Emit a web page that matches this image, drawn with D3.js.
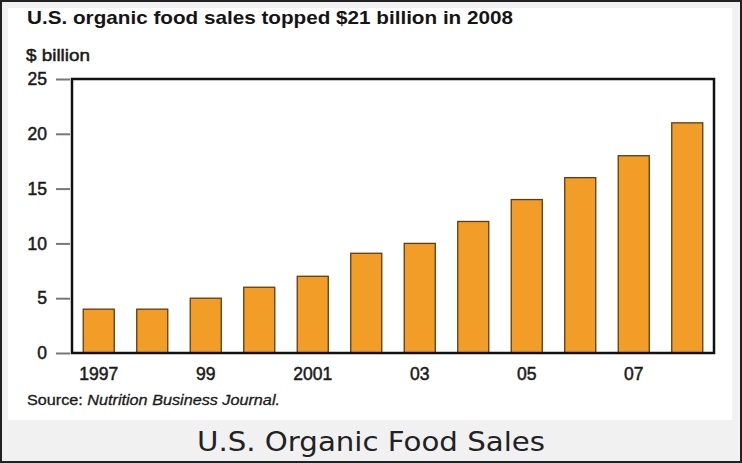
<!DOCTYPE html>
<html><head><meta charset="utf-8">
<script src="https://cdn.jsdelivr.net/npm/d3@7"></script>
<style>body{margin:0;background:#fff}svg{display:block}</style>
</head><body>
<svg id="c" width="742" height="463"></svg>
<script>
const years = [1997,1998,1999,2000,2001,2002,2003,2004,2005,2006,2007,2008];
const sales = [4,4,5,6,7,9.1,10,12,14,16,18,21];
const xTickLabels = {1997:"1997",1999:"99",2001:"2001",2003:"03",2005:"05",2007:"07"};
const yTicks = [0,5,10,15,20,25];

const FONT = "Liberation Sans, Arial, Helvetica, sans-serif";
const svg = d3.select("#c");
const W = 742, H = 463;
// frame
svg.append("rect").attr("x",0).attr("y",0).attr("width",W).attr("height",H).attr("fill","#222");
svg.append("rect").attr("x",2).attr("y",2).attr("width",W-4).attr("height",H-4).attr("fill","#f1f1f1");
svg.append("rect").attr("x",8).attr("y",8).attr("width",724).attr("height",412).attr("fill","#fff");

const m = {l:72, r:714, t:79, b:353};
const x = d3.scaleBand().domain(years).range([m.l, m.r]).paddingInner(0.42).paddingOuter(0.21);
const y = d3.scaleLinear().domain([0,25]).range([m.b, m.t]);

svg.append("text").attr("x",27).attr("y",24).attr("font-family",FONT)
  .attr("font-weight","bold").attr("font-size",18.5).attr("fill","#151515")
  .attr("textLength",486).attr("lengthAdjust","spacingAndGlyphs")
  .text("U.S. organic food sales topped $21 billion in 2008");
svg.append("text").attr("x",26).attr("y",61).attr("font-family",FONT)
  .attr("font-size",17).attr("fill","#1a1a1a").attr("stroke","#1a1a1a").attr("stroke-width",0.5)
  .attr("textLength",64).attr("lengthAdjust","spacingAndGlyphs").text("$ billion");

// bars
svg.append("g").selectAll("rect").data(years).join("rect")
  .attr("x", d=>x(d)).attr("width", x.bandwidth())
  .attr("y", (d,i)=>y(sales[i])).attr("height",(d,i)=>y(0)-y(sales[i]))
  .attr("fill","#f19d28").attr("stroke","#5e3d12").attr("stroke-width",1.3);

// y axis
const ya = d3.axisLeft(y).tickValues(yTicks).tickSize(14).tickPadding(9);
const gy = svg.append("g").attr("transform",`translate(${m.l-2},0)`).call(ya);
gy.select(".domain").remove();
gy.selectAll(".tick line").attr("stroke","#777").attr("stroke-width",2);
gy.selectAll(".tick text").attr("font-family",FONT).attr("font-size",17.5).attr("fill","#1a1a1a")
  .attr("stroke","#1a1a1a").attr("stroke-width",0.5);

// x axis
const xa = d3.axisBottom(x).tickValues(years.filter(d=>xTickLabels[d])).tickFormat(d=>xTickLabels[d]).tickSize(0).tickPadding(15);
const gx = svg.append("g").attr("transform",`translate(0,${m.b})`).call(xa);
gx.select(".domain").remove();
gx.selectAll(".tick text").attr("font-family",FONT).attr("font-size",17.5).attr("fill","#1a1a1a")
  .attr("stroke","#1a1a1a").attr("stroke-width",0.5);

// plot frame
svg.append("rect").attr("x",m.l).attr("y",m.t).attr("width",m.r-m.l).attr("height",m.b-m.t)
  .attr("fill","none").attr("stroke","#111").attr("stroke-width",2.5);

// source
const src = svg.append("text").attr("x",27).attr("y",405).attr("font-family",FONT)
  .attr("font-size",14.5).attr("fill","#1a1a1a").attr("stroke","#1a1a1a").attr("stroke-width",0.3)
  .attr("textLength",253).attr("lengthAdjust","spacingAndGlyphs");
src.append("tspan").text("Source: ");
src.append("tspan").attr("font-style","italic").text("Nutrition Business Journal.");

// caption
svg.append("text").attr("x",371).attr("y",451).attr("text-anchor","middle")
  .attr("font-family","DejaVu Sans, Verdana, sans-serif").attr("font-size",27).attr("fill","#222")
  .attr("textLength",348).attr("lengthAdjust","spacingAndGlyphs")
  .text("U.S. Organic Food Sales");
</script>
</body></html>
